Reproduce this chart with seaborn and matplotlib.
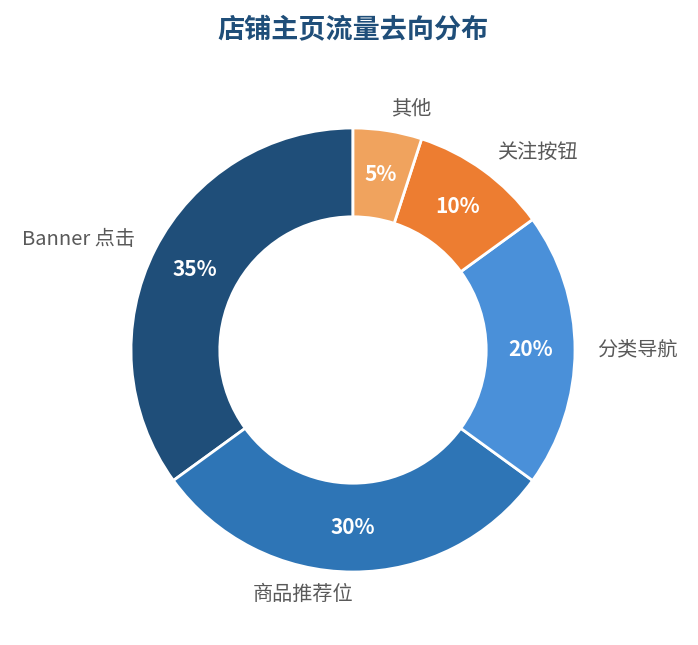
import matplotlib
matplotlib.use("Agg")
import matplotlib.pyplot as plt
import seaborn as sns

# data
labels = ["Banner 点击", "商品推荐位", "分类导航", "关注按钮", "其他"]
values = [35, 30, 20, 10, 5]
colors = ["#1f4e79", "#2e75b6", "#4a90d9", "#ed7d31", "#f0a35e"]
title = "店铺主页流量去向分布"

sns.set_theme(style="white")
plt.rcParams['font.family'] = ['Noto Sans CJK SC', 'DejaVu Sans']

W, H = 698, 645
fig = plt.figure(figsize=(W / 100, H / 100), dpi=100)
cx, cy, r = 353, 350, 222
ax = fig.add_axes([(cx - r) / W, (H - cy - r) / H, 2 * r / W, 2 * r / H])

wedges, texts, autotexts = ax.pie(
    values,
    labels=labels,
    colors=colors,
    startangle=90,
    counterclock=True,
    autopct="%d%%",
    pctdistance=0.8,
    labeldistance=1.1,
    wedgeprops=dict(width=0.4, edgecolor="white", linewidth=2),
    textprops=dict(fontsize=14.5, color="#595959"),
)
for t in autotexts:
    t.set_color("white")
    t.set_fontsize(15)
    t.set_fontweight("bold")
for t in texts:
    t.set_clip_on(False)
# bottom label sits right-aligned at the centre line, like the reference
texts[1].set_ha("right")

ax.set_xlim(-1, 1)
ax.set_ylim(-1, 1)
ax.set_aspect("equal")

fig.text(cx / W, 1 - 30 / H, title, ha="center", va="center",
         fontsize=19.5, fontweight="bold", color="#1f4e79")

fig.savefig("out.png", dpi=100)
